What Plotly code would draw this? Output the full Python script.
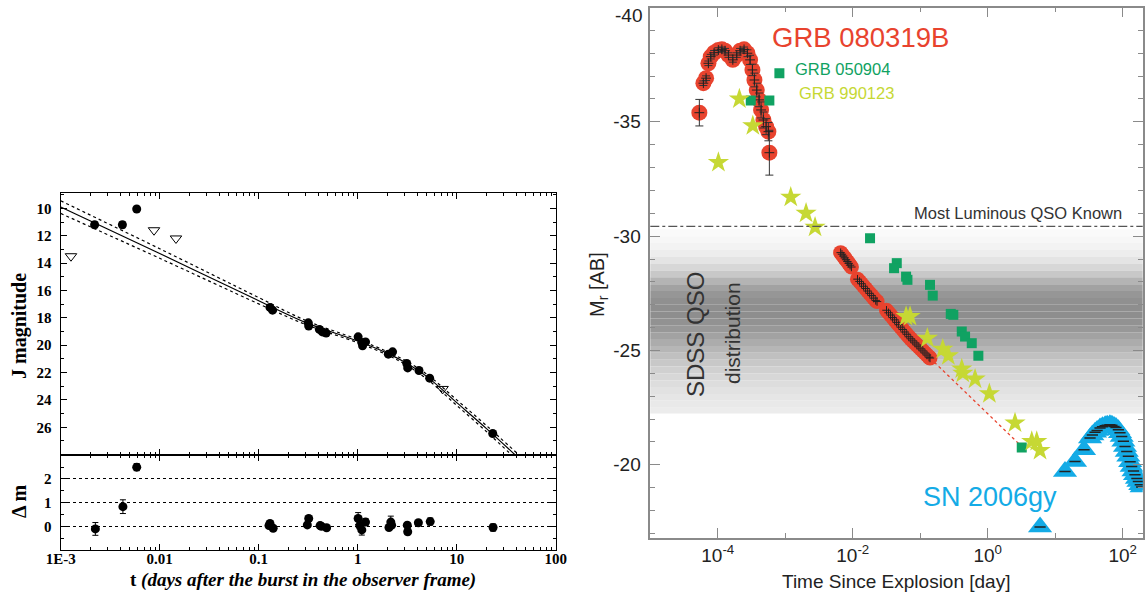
import plotly.graph_objects as go

# ================= LEFT PANEL DATA (GRB J-band light curve) =================
j_det_t = [0.0022, 0.0042, 0.00586, 0.13, 0.138, 0.317, 0.32, 0.41, 0.44, 0.48,
           1.01, 1.1, 1.2, 1.12, 2.04, 2.25, 3.13, 3.2, 4.16, 5.33, 23.1]
j_det_mag = [11.2, 11.2, 10.05, 17.24, 17.44, 18.37, 18.6, 18.85, 19.03, 19.12,
             19.39, 19.8, 19.76, 20.05, 20.66, 20.49, 21.34, 21.66, 21.85, 22.41, 26.46]
j_det_err = [0.22, 0.22, 0.15, 0.08, 0.08, 0.1, 0.1, 0.08, 0.08, 0.08,
             0.1, 0.1, 0.1, 0.1, 0.1, 0.1, 0.1, 0.1, 0.08, 0.1, 0.12]

j_lim_t = [0.00127, 0.00876, 0.0146, 7.2]
j_lim_mag = [13.5, 11.6, 12.2, 23.2]

model_t = [0.001, 0.01, 0.1, 0.3, 1, 2, 3, 5, 10, 20, 40]
model_mag = [9.9, 13.3, 16.75, 18.35, 19.7, 20.6, 21.25, 22.3, 24.2, 26.1, 28.1]
model_upper = [9.45, 12.95, 16.52, 18.2, 19.58, 20.48, 21.11, 22.13, 24.0, 25.88, 27.85]
model_lower = [10.37, 13.65, 16.98, 18.5, 19.82, 20.72, 21.39, 22.47, 24.4, 26.32, 28.35]

dm_t = [0.00224, 0.00425, 0.00586, 0.127, 0.13, 0.14, 0.31, 0.32, 0.417, 0.43, 0.485,
        1.01, 1.05, 1.10, 1.2, 2.07, 2.16, 2.2, 3.17, 3.2, 4.1, 5.4, 23.3]
dm_val = [-0.11, 0.83, 2.5, 0.03, 0.12, -0.08, 0.06, 0.33, 0.03, 0.0, -0.06,
          0.33, 0.03, -0.15, 0.18, -0.05, 0.18, 0.05, 0.05, -0.23, 0.15, 0.2, -0.05]
dm_err = [0.27, 0.29, 0.15, 0.08, 0.08, 0.08, 0.1, 0.1, 0.08, 0.08, 0.08,
          0.25, 0.15, 0.22, 0.15, 0.1, 0.25, 0.1, 0.1, 0.12, 0.08, 0.15, 0.15]

left_xtick_vals = [0.001, 0.01, 0.1, 1, 10, 100]
left_xtick_text = ["1E-3", "0.01", "0.1", "1", "10", "100"]

# ================= RIGHT PANEL DATA (absolute magnitudes) =================
grb080319b_early_t = [5.33e-5, 6.12e-5, 6.71e-5, 7.26e-5, 7.87e-5, 8.81e-5, 1.02e-4, 1.15e-4,
                      1.28e-4, 1.44e-4, 1.67e-4, 1.91e-4, 2.14e-4, 2.45e-4, 2.75e-4, 3.01e-4,
                      3.26e-4, 3.49e-4, 3.78e-4, 4.09e-4, 4.38e-4, 4.74e-4, 5.2e-4, 5.62e-4, 5.81e-4]
grb080319b_early_M = [-35.4, -36.69, -36.91, -37.56, -37.85, -38.02, -38.14, -38.17,
                      -38.11, -37.92, -37.71, -37.92, -38.11, -38.17, -38.0, -37.71,
                      -37.27, -36.83, -36.39, -35.96, -35.52, -35.08, -34.79, -34.57, -33.65]
grb080319b_early_err = [0.58, 0.1, 0.1, 0.1, 0.1, 0.1, 0.1, 0.1,
                        0.1, 0.1, 0.1, 0.1, 0.1, 0.1, 0.15, 0.2,
                        0.25, 0.3, 0.3, 0.3, 0.35, 0.35, 0.35, 0.4, 0.98]

grb080319b_late_t = [0.00661, 0.00692, 0.00724, 0.00759, 0.00794, 0.00832, 0.00871, 0.00912, 0.00955,
                     0.01175, 0.01259, 0.01349, 0.01445, 0.01549, 0.0166, 0.01778, 0.01905, 0.02042,
                     0.02188, 0.02291,
                     0.03162, 0.03388, 0.03631, 0.0389, 0.04169, 0.04467, 0.04786, 0.05129, 0.05495,
                     0.05888, 0.0631, 0.06761, 0.07244, 0.07762, 0.08318, 0.08913, 0.0955, 0.1023,
                     0.1096, 0.1175, 0.1259, 0.1349, 0.1396]
grb080319b_late_M = [-29.28, -29.21, -29.13, -29.05, -28.97, -28.89, -28.81, -28.73, -28.65,
                     -28.12, -28.02, -27.92, -27.81, -27.71, -27.6, -27.5, -27.4, -27.29,
                     -27.19, -27.14,
                     -26.76, -26.65, -26.55, -26.44, -26.34, -26.23, -26.13, -26.02, -25.92,
                     -25.81, -25.71, -25.6, -25.51, -25.42, -25.33, -25.24, -25.16, -25.07,
                     -24.98, -24.89, -24.8, -24.71, -24.67]
grb080319b_ext_t = [0.1396, 3.19]
grb080319b_ext_M = [-24.67, -20.8]

grb050904_t = [3.08e-4, 5.81e-4, 8.18e-4, 0.01803, 0.04487, 0.04093, 0.06166, 0.06457, 0.1396,
               0.1531, 0.2831, 0.309, 0.4121, 0.4613, 0.5794, 0.7261, 3.19]
grb050904_M = [-35.93, -35.93, -37.12, -29.91, -28.82, -28.6, -28.23, -28.09, -27.87,
               -27.4, -26.6, -26.56, -25.83, -25.61, -25.32, -24.77, -20.76]

grb990123_t = [1.021e-4, 2.089e-4, 3.304e-4, 1.205e-3, 2.032e-3, 2.761e-3, 0.06166, 0.07063,
               0.1274, 0.2153, 0.2606, 0.4121, 0.4266, 0.6486, 1.057, 2.535, 4.487, 5.321, 5.957]
grb990123_M = [-33.22, -36.0, -34.83, -31.7, -31.0, -30.39, -26.49, -26.49,
               -25.54, -25.06, -24.77, -24.19, -24.01, -23.75, -23.11, -21.83, -21.02, -21.02, -20.63]

sn2006gy_t = [5.96, 13.96, 19.63, 26.73, 32.81, 35.5, 38.9, 41.7, 46.1, 50.1, 54.95, 58.9, 64.6,
              69.2, 74.3, 79.4, 86.1, 91.2, 96.6, 102.3, 108.1, 114.8, 121.1, 128.8, 135.8,
              144.5, 152.1, 162.2, 170.6, 182.0, 190.5]
sn2006gy_M = [-17.28, -19.71, -20.15, -20.66, -21.17, -21.3, -21.42, -21.5, -21.61, -21.67, -21.71,
              -21.73, -21.75, -21.73, -21.68, -21.63, -21.53, -21.4, -21.24, -21.03, -20.8, -20.58,
              -20.37, -20.13, -19.93, -19.73, -19.57, -19.4, -19.27, -19.13, -19.03]

qso_most_luminous_M = -30.43
qso_mag_edges = [-30.3, -30.0, -29.7, -29.4, -29.1, -28.8, -28.5, -28.2, -27.9, -27.6, -27.3, -27.0,
                 -26.7, -26.4, -26.1, -25.8, -25.5, -25.2, -24.9, -24.6, -24.3, -24.0, -23.7,
                 -23.4, -23.1, -22.8, -22.5, -22.25]
qso_gray = [250, 247, 243, 237, 228, 215, 200, 180, 162, 150, 144, 142, 142, 146, 152, 162,
            172, 182, 192, 200, 208, 215, 221, 226, 230, 233, 236]

right_xtick_vals = [1e-4, 1e-2, 1, 100]
right_xtick_text = ["10<sup>-4</sup>", "10<sup>-2</sup>", "10<sup>0</sup>", "10<sup>2</sup>"]
right_ytick_vals = [-40, -35, -30, -25, -20]
right_ytick_text = ["", "-35", "-30", "-25", "-20"]

# ================= COLOURS / FONTS =================
RED = "#e8432e"
GREEN = "#10a262"
LIME = "#c6d834"
BLUE = "#14abe6"
SERIF = "Liberation Serif"
SANS = "Liberation Sans"

W, H = 1147, 596

fig = go.Figure()

# ---------------- Left top panel ----------------
fig.add_trace(go.Scatter(x=model_t, y=model_upper, mode="lines", line_shape="spline",
                         line=dict(color="black", width=1.2, dash="dot"), xaxis="x", yaxis="y",
                         hoverinfo="skip"))
fig.add_trace(go.Scatter(x=model_t, y=model_lower, mode="lines", line_shape="spline",
                         line=dict(color="black", width=1.2, dash="dot"), xaxis="x", yaxis="y",
                         hoverinfo="skip"))
fig.add_trace(go.Scatter(x=model_t, y=model_mag, mode="lines", line_shape="spline",
                         line=dict(color="black", width=1.2), xaxis="x", yaxis="y"))
fig.add_trace(go.Scatter(x=j_det_t, y=j_det_mag, mode="markers",
                         marker=dict(symbol="circle", size=9, color="black"),
                         error_y=dict(type="data", array=j_det_err, color="black", thickness=1, width=3),
                         xaxis="x", yaxis="y"))
fig.add_trace(go.Scatter(x=j_lim_t, y=j_lim_mag, mode="markers",
                         marker=dict(symbol="triangle-down-open", size=10, color="black",
                                     line=dict(width=1, color="black")),
                         xaxis="x", yaxis="y"))

# ---------------- Left bottom panel ----------------
fig.add_trace(go.Scatter(x=dm_t, y=dm_val, mode="markers",
                         marker=dict(symbol="circle", size=9, color="black"),
                         error_y=dict(type="data", array=dm_err, color="black", thickness=1, width=3),
                         xaxis="x2", yaxis="y2"))

# ---------------- Right panel ----------------
fig.add_trace(go.Scatter(x=grb080319b_ext_t, y=grb080319b_ext_M, mode="lines",
                         line=dict(color=RED, width=1.3, dash="dot"), xaxis="x3", yaxis="y3"))
fig.add_trace(go.Scatter(x=grb080319b_early_t, y=grb080319b_early_M, mode="markers",
                         marker=dict(symbol="circle", size=16, color=RED),
                         xaxis="x3", yaxis="y3"))
fig.add_trace(go.Scatter(x=grb080319b_late_t, y=grb080319b_late_M, mode="markers",
                         marker=dict(symbol="circle", size=15, color=RED),
                         xaxis="x3", yaxis="y3"))
fig.add_trace(go.Scatter(x=grb080319b_early_t, y=grb080319b_early_M, mode="markers",
                         marker=dict(symbol="cross-thin", size=7, color="#222",
                                     line=dict(width=1, color="#222")),
                         error_y=dict(type="data", array=grb080319b_early_err, color="#333",
                                      thickness=1, width=4),
                         xaxis="x3", yaxis="y3"))
fig.add_trace(go.Scatter(x=grb080319b_late_t, y=grb080319b_late_M, mode="markers",
                         marker=dict(symbol="cross-thin", size=6, color="#222",
                                     line=dict(width=1, color="#222")),
                         xaxis="x3", yaxis="y3"))
fig.add_trace(go.Scatter(x=grb050904_t, y=grb050904_M, mode="markers",
                         marker=dict(symbol="square", size=10, color=GREEN),
                         xaxis="x3", yaxis="y3"))
fig.add_trace(go.Scatter(x=grb990123_t, y=grb990123_M, mode="markers",
                         marker=dict(symbol="star", size=16, color=LIME),
                         xaxis="x3", yaxis="y3"))
fig.add_trace(go.Scatter(x=sn2006gy_t, y=sn2006gy_M, mode="markers",
                         marker=dict(symbol="triangle-up", size=21, color=BLUE),
                         xaxis="x3", yaxis="y3"))
fig.add_trace(go.Scatter(x=sn2006gy_t, y=sn2006gy_M, mode="markers",
                         marker=dict(symbol="line-ew", size=8, color="#222",
                                     line=dict(width=1.5, color="#222")),
                         xaxis="x3", yaxis="y3"))

# QSO band shapes
shapes = []
for i, g in enumerate(qso_gray):
    shapes.append(dict(type="rect", xref="x3 domain", yref="y3", x0=0, x1=1,
                       y0=qso_mag_edges[i], y1=qso_mag_edges[i + 1],
                       fillcolor=f"rgb({g},{g},{g})", line=dict(width=0), layer="below"))
shapes.append(dict(type="line", xref="x3 domain", yref="y3", x0=0, x1=1,
                   y0=qso_most_luminous_M, y1=qso_most_luminous_M,
                   line=dict(color="#555", width=1.2, dash="dashdot")))

# ---------------- Axes ----------------
lx_dom = [60.7 / W, 555.7 / W]
minor_log_left = [k * 10 ** e for e in range(-3, 2) for k in range(2, 10)]
left_axis_common = dict(type="log", range=[-3, 2], showline=True, linecolor="black", linewidth=1.2,
                        mirror="ticks", ticks="inside", ticklen=6, tickcolor="black", tickwidth=1.2,
                        tickvals=left_xtick_vals, showgrid=False, zeroline=False, automargin=False,
                        minor=dict(tickvals=minor_log_left, ticks="inside", ticklen=3,
                                   tickcolor="black", tickwidth=1))

layout = dict(
    template="none",
    width=W, height=H, margin=dict(l=0, r=0, t=0, b=0, pad=0, autoexpand=False),
    paper_bgcolor="white", plot_bgcolor="white", showlegend=False,
    xaxis=dict(domain=lx_dom, anchor="y", showticklabels=False, **left_axis_common),
    yaxis=dict(domain=[1 - 455.3 / H, 1 - 193.3 / H], anchor="x", range=[28.05, 8.9],
               showline=True, linecolor="black", linewidth=1.2, mirror="ticks", automargin=False,
               ticks="inside", ticklen=6, tickcolor="black", tickwidth=1.2,
               tickvals=[10, 12, 14, 16, 18, 20, 22, 24, 26], showgrid=False, zeroline=False,
               tickfont=dict(family=SERIF, size=15, color="black", weight="bold"),
               ticklabelstandoff=5,
               minor=dict(dtick=1, ticks="inside", ticklen=3, tickcolor="black")),
    xaxis2=dict(domain=lx_dom, anchor="y2", ticktext=left_xtick_text,
                tickfont=dict(family=SERIF, size=15, color="black", weight="bold"),
                ticklabelstandoff=-5, **left_axis_common),
    yaxis2=dict(domain=[1 - 550 / H, 1 - 455.3 / H], anchor="x2", range=[-1, 3],
                showline=True, linecolor="black", linewidth=1.2, mirror="ticks", automargin=False,
                ticks="inside", ticklen=6, tickcolor="black", tickwidth=1.2,
                tickvals=[0, 1, 2], showgrid=True, gridcolor="black", griddash="dot", gridwidth=1,
                zeroline=False,
                tickfont=dict(family=SERIF, size=15, color="black", weight="bold"),
                ticklabelstandoff=5,
                minor=dict(tickvals=[-0.5, 0.5, 1.5, 2.5], ticks="inside", ticklen=3,
                           tickcolor="black", showgrid=False)),
    xaxis3=dict(domain=[650.3 / W, 1142.7 / W], anchor="y3", type="log", range=[-5, 2.296],
                showline=True, linecolor="#8a8a8a", linewidth=1.5, mirror="ticks", automargin=False,
                ticks="inside", ticklen=10, tickcolor="#8a8a8a", tickwidth=1.2,
                tickvals=right_xtick_vals, ticktext=right_xtick_text, showgrid=False, zeroline=False,
                tickfont=dict(family=SANS, size=19, color="#222"), ticklabelstandoff=-1,
                minor=dict(tickvals=[1e-5, 1e-3, 0.1, 10], ticks="inside", ticklen=5,
                           tickcolor="#8a8a8a")),
    yaxis3=dict(domain=[1 - 538 / H, 1 - 7.5 / H], anchor="x3", range=[-16.8, -40],
                showline=True, linecolor="#8a8a8a", linewidth=1.5, mirror="ticks", automargin=False,
                ticks="inside", ticklen=10, tickcolor="#8a8a8a", tickwidth=1.2,
                tickvals=right_ytick_vals, ticktext=right_ytick_text, showgrid=False,
                zeroline=False, tickfont=dict(family=SANS, size=19, color="#222"),
                ticklabelstandoff=4,
                minor=dict(dtick=1, ticks="inside", ticklen=5, tickcolor="#8a8a8a")),
    shapes=shapes,
)


def ann(text, x, y, size, color, family=SANS, xanchor="center", yanchor="middle", angle=0, **kw):
    return dict(text=text, x=x / W, y=1 - y / H, xref="paper", yref="paper", showarrow=False,
                font=dict(family=family, size=size, color=color, **kw),
                xanchor=xanchor, yanchor=yanchor, textangle=angle)


layout["annotations"] = [
    ann("J magnitude", 19, 326, 20, "black", family=SERIF, angle=-90, weight="bold"),
    ann("Δ m", 19, 502, 20, "black", family=SERIF, angle=-90, weight="bold"),
    ann("<b>t </b><b><i>(days after the burst in the observer frame)</i></b>", 303, 580, 19,
        "black", family=SERIF),
    ann("-40", 644, 16, 19, "#222", xanchor="right"),
    ann("M<sub>r</sub> [AB]", 598, 285, 20, "#222", angle=-90),
    ann("Time Since Explosion [day]", 896, 581, 19, "#222"),
    ann("GRB 080319B", 770, 38, 27.5, RED, xanchor="left"),
    ann("GRB 050904", 793, 69, 16.5, GREEN, xanchor="left"),
    ann("GRB 990123", 797, 93, 16.5, LIME, xanchor="left"),
    ann("Most Luminous QSO Known", 1124, 213, 16.5, "#333", xanchor="right"),
    ann("SDSS QSO", 695, 335, 24, "#333", angle=-90),
    ann("distribution", 732, 333, 21, "#333", angle=-90),
    ann("SN 2006gy", 921, 497, 27, BLUE, xanchor="left"),
]

fig.update_layout(**layout)
fig.write_html("out.html", config={"displayModeBar": False},
               post_script="document.body.style.margin='0';document.body.style.padding='0';")
